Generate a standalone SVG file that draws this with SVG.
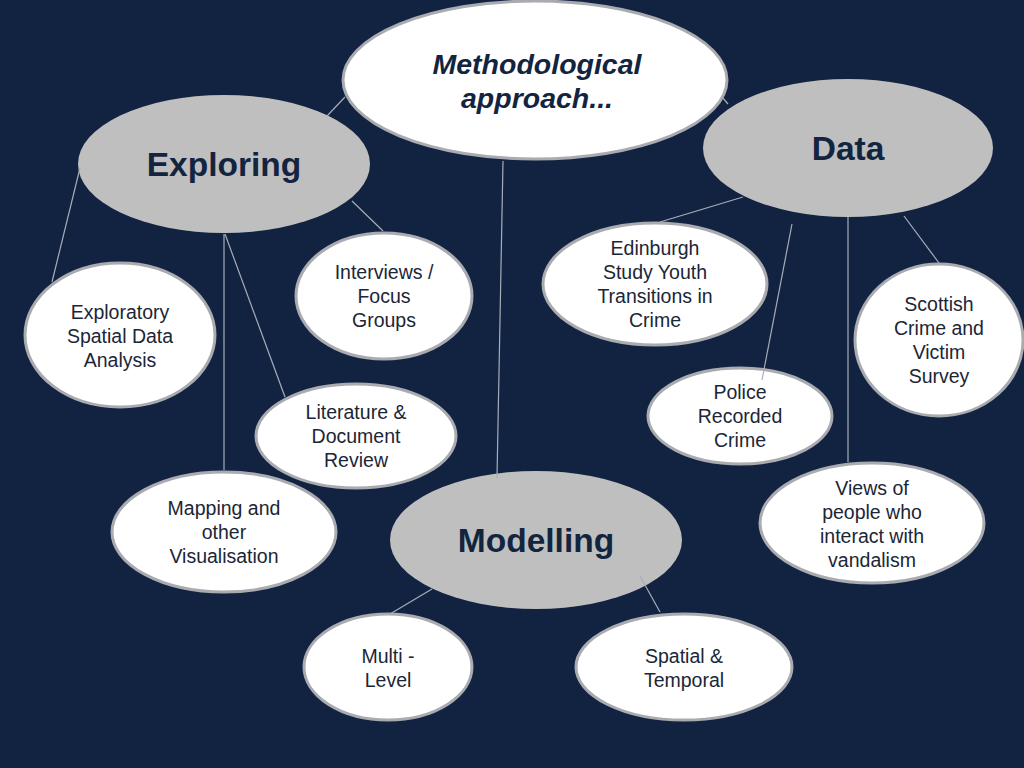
<svg xmlns="http://www.w3.org/2000/svg" width="1024" height="768" viewBox="0 0 1024 768">
<style>
.bg{fill:#112341}
.w{fill:#ffffff;stroke:#a9abb0;stroke-width:3}
.g{fill:#bfbfbf;stroke:none}
.t{font-family:"Liberation Sans",Arial,sans-serif;font-size:19.5px;fill:#1b2637;text-anchor:middle}
.h{font-family:"Liberation Sans",Arial,sans-serif;font-size:33.5px;font-weight:bold;fill:#13243f;text-anchor:middle}
.m{font-family:"Liberation Sans",Arial,sans-serif;font-size:28.5px;font-weight:bold;font-style:italic;fill:#13243f;text-anchor:middle}
.c line{stroke:#a8adb8;stroke-width:1.2}
</style>
<rect class="bg" x="0" y="0" width="1024" height="768"/>
<g id="method"><ellipse class="w" cx="535" cy="80" rx="192" ry="79"/><text class="m" x="537" y="74">Methodological</text><text class="m" x="537" y="108">approach...</text></g>
<g id="exploring"><ellipse class="g" cx="224" cy="164" rx="146" ry="69"/><text class="h" x="224" y="176">Exploring</text></g>
<g id="data"><ellipse class="g" cx="848" cy="148" rx="145" ry="69"/><text class="h" x="848" y="160">Data</text></g>
<g id="modelling"><ellipse class="g" cx="536" cy="540" rx="146" ry="69"/><text class="h" x="536" y="552">Modelling</text></g>
<g id="esda"><ellipse class="w" cx="120" cy="335" rx="95" ry="72"/><text class="t" x="120" y="319">Exploratory</text><text class="t" x="120" y="343">Spatial Data</text><text class="t" x="120" y="367">Analysis</text></g>
<g id="interviews"><ellipse class="w" cx="384" cy="296" rx="88" ry="63"/><text class="t" x="384" y="279">Interviews /</text><text class="t" x="384" y="303">Focus</text><text class="t" x="384" y="327">Groups</text></g>
<g id="literature"><ellipse class="w" cx="356" cy="436" rx="100" ry="52"/><text class="t" x="356" y="419">Literature &amp;</text><text class="t" x="356" y="443">Document</text><text class="t" x="356" y="467">Review</text></g>
<g id="mapping"><ellipse class="w" cx="224" cy="532" rx="112" ry="60"/><text class="t" x="224" y="515">Mapping and</text><text class="t" x="224" y="539">other</text><text class="t" x="224" y="563">Visualisation</text></g>
<g id="multilevel"><ellipse class="w" cx="388" cy="667" rx="84" ry="53"/><text class="t" x="388" y="663">Multi -</text><text class="t" x="388" y="687">Level</text></g>
<g id="spatial"><ellipse class="w" cx="684" cy="667" rx="108" ry="53"/><text class="t" x="684" y="663">Spatial &amp;</text><text class="t" x="684" y="687">Temporal</text></g>
<g id="edinburgh"><ellipse class="w" cx="655" cy="284" rx="112" ry="61"/><text class="t" x="655" y="255">Edinburgh</text><text class="t" x="655" y="279">Study Youth</text><text class="t" x="655" y="303">Transitions in</text><text class="t" x="655" y="327">Crime</text></g>
<g id="police"><ellipse class="w" cx="740" cy="416" rx="92" ry="48"/><text class="t" x="740" y="399">Police</text><text class="t" x="740" y="423">Recorded</text><text class="t" x="740" y="447">Crime</text></g>
<g id="scottish"><ellipse class="w" cx="939" cy="340" rx="84" ry="76"/><text class="t" x="939" y="311">Scottish</text><text class="t" x="939" y="335">Crime and</text><text class="t" x="939" y="359">Victim</text><text class="t" x="939" y="383">Survey</text></g>
<g id="views"><ellipse class="w" cx="872" cy="523" rx="112" ry="60"/><text class="t" x="872" y="495">Views of</text><text class="t" x="872" y="519">people who</text><text class="t" x="872" y="543">interact with</text><text class="t" x="872" y="567">vandalism</text></g>
<g id="connectors" class="c">
<line x1="345" y1="97" x2="327" y2="116"/>
<line x1="722" y1="97" x2="728" y2="104"/>
<line x1="503" y1="161" x2="497" y2="478"/>
<line x1="80" y1="168" x2="52" y2="282"/>
<line x1="352" y1="201" x2="383" y2="231"/>
<line x1="225" y1="234" x2="285" y2="397"/>
<line x1="224" y1="234" x2="224" y2="470"/>
<line x1="743" y1="197" x2="660" y2="222"/>
<line x1="792" y1="224" x2="762" y2="380"/>
<line x1="848" y1="217" x2="848" y2="462"/>
<line x1="904" y1="216" x2="939" y2="263"/>
<line x1="432" y1="589" x2="390" y2="614"/>
<line x1="640" y1="576" x2="660" y2="612"/>
</g>
</svg>
